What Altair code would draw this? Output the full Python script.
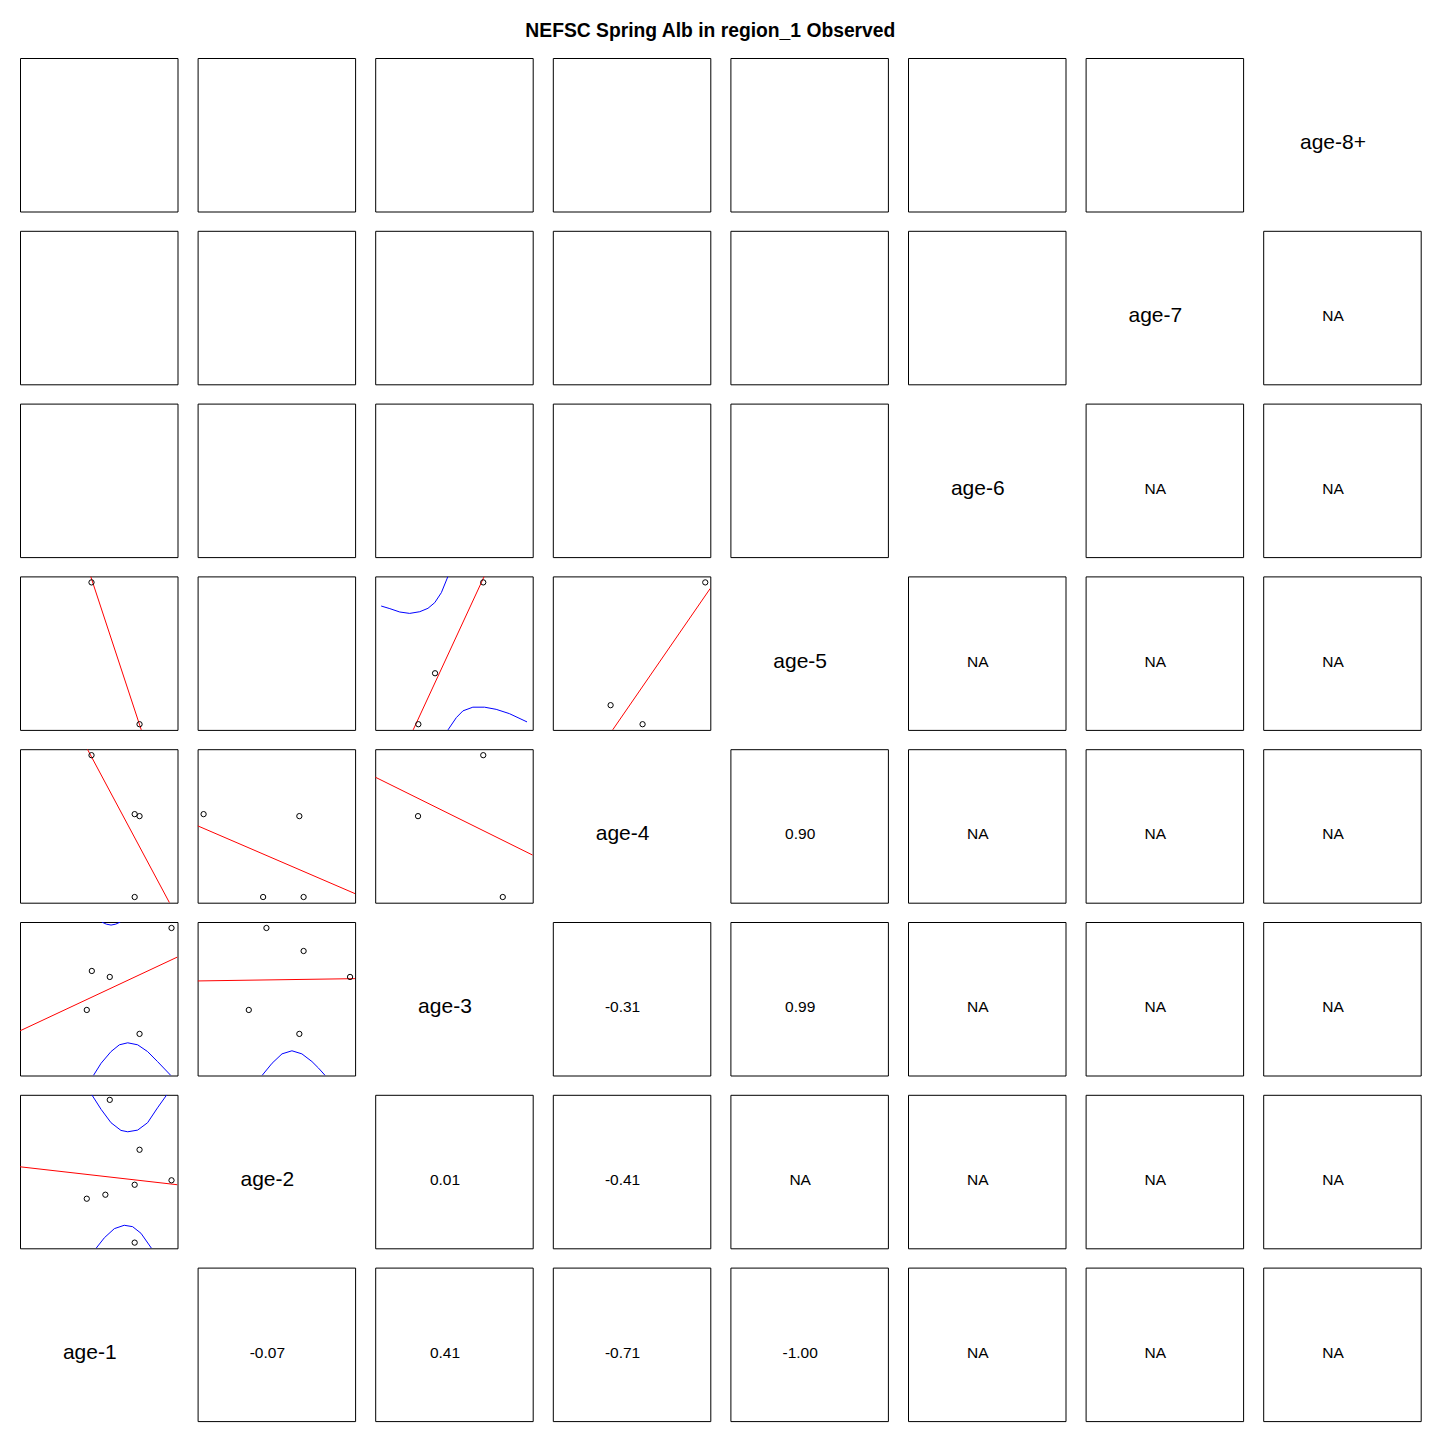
import altair as alt
import pandas as pd

# ---------------- data ----------------
variables = ["age-1", "age-2", "age-3", "age-4", "age-5", "age-6", "age-7", "age-8+"]

# correlations of age-i with age-(i+1) ... age-8+
cor_age1 = ["-0.07", "0.41", "-0.71", "-1.00", "NA", "NA", "NA"]
cor_age2 = ["0.01", "-0.41", "NA", "NA", "NA", "NA"]
cor_age3 = ["-0.31", "0.99", "NA", "NA", "NA"]
cor_age4 = ["0.90", "NA", "NA", "NA"]
cor_age5 = ["NA", "NA", "NA"]
cor_age6 = ["NA", "NA"]
cor_age7 = ["NA"]
cor_table = [cor_age1, cor_age2, cor_age3, cor_age4, cor_age5, cor_age6, cor_age7]

# scatter panels (values in panel-relative units 0..100)
s21_x = [57.0, 75.9, 96.2, 72.8, 54.2, 42.4, 72.8]
s21_y = [96.7, 64.2, 44.3, 41.4, 34.9, 32.3, 3.7]
s21_fit_x = [0, 100]
s21_fit_y = [53.1, 41.4]
s21_up_x = [45.6, 51.5, 57.8, 64.1, 68.4, 74.7, 81.0, 87.3, 93.2]
s21_up_y = [100, 90.5, 81.8, 76.8, 75.9, 77.0, 81.8, 91.5, 100]
s21_lo_x = [48.3, 53.6, 59.9, 66.2, 71.5, 76.8, 83.5]
s21_lo_y = [0, 6.9, 12.8, 15.0, 14.1, 9.8, 0]

s31_x = [96.2, 45.6, 57.0, 42.4, 75.9]
s31_y = [96.1, 68.1, 64.2, 42.7, 27.1]
s31_fit_x = [0, 100]
s31_fit_y = [29.1, 77.2]
s31_up_x = [50.5, 51.9, 54.8, 57.8, 60.8, 63.7, 65.1]
s31_up_y = [103, 100, 98.6, 98.0, 98.6, 100, 103]
s31_lo_x = [46.6, 51.5, 57.8, 63.1, 68.4, 74.7, 81.0, 87.3, 95.8]
s31_lo_y = [0, 8.0, 15.6, 20.0, 21.3, 20.0, 15.6, 9.1, 0]

s32_x = [43.7, 67.3, 96.8, 32.5, 64.6]
s32_y = [96.1, 81.1, 64.2, 42.7, 27.1]
s32_fit_x = [0, 100]
s32_fit_y = [61.6, 63.1]
s32_lo_x = [40.9, 47.3, 53.6, 59.9, 66.2, 72.6, 76.8, 81.0]
s32_lo_y = [0, 8.0, 14.1, 16.1, 14.1, 9.1, 4.8, 0]

s41_x = [45.4, 72.8, 75.9, 72.8]
s41_y = [96.1, 57.7, 56.4, 3.7]
s41_fit_x = [42.8, 94.9]
s41_fit_y = [100, 0]

s42_x = [3.8, 64.6, 41.6, 67.3]
s42_y = [57.7, 56.4, 3.7, 3.7]
s42_fit_x = [0, 100]
s42_fit_y = [50.1, 5.9]

s43_x = [68.6, 27.2, 81.0]
s43_y = [96.1, 56.4, 3.7]
s43_fit_x = [0, 100]
s43_fit_y = [81.8, 31.0]

s51_x = [45.4, 75.9]
s51_y = [96.1, 3.7]
s51_fit_x = [44.9, 77.0]
s51_fit_y = [100, 0]

s53_x = [68.6, 38.0, 27.4]
s53_y = [96.1, 36.9, 3.7]
s53_fit_x = [24.1, 69.2]
s53_fit_y = [0, 100]
s53_up_x = [3.8, 9.3, 15.6, 21.9, 28.3, 33.5, 37.8, 42.0, 46.2]
s53_up_y = [80.7, 79.0, 76.8, 75.9, 77.0, 79.2, 82.9, 89.4, 100]
s53_lo_x = [46.2, 51.5, 55.7, 62.0, 69.4, 76.8, 85.2, 96.4]
s53_lo_y = [0, 8.0, 12.4, 14.8, 14.8, 13.4, 10.6, 5.2]

s54_x = [96.8, 36.7, 57.0]
s54_y = [96.1, 16.1, 3.7]
s54_fit_x = [38.0, 100]
s54_fit_y = [0, 92.2]

TITLE = "NEFSC Spring Alb in region_1 Observed"

# ---------------- chart construction ----------------
W = 157.5
H = 153.5
FONT = "Liberation Sans"
TX = 44.3   # text anchor inside a panel (panel units)
TY = 44.5


def sc():
    return alt.Scale(domain=[0, 100], nice=False, zero=False)


def enc_xy():
    return dict(x=alt.X("x:Q", scale=sc(), axis=None),
                y=alt.Y("y:Q", scale=sc(), axis=None))


def scatter_panel(px, py, fx, fy, bands=()):
    layers = []
    if bands:
        rows = []
        for k, (bx, by) in enumerate(bands):
            rows += [{"x": a, "y": b, "part": k} for a, b in zip(bx, by)]
        layers.append(
            alt.Chart(pd.DataFrame(rows))
            .mark_line(color="#0000FF", strokeWidth=1, clip=True)
            .encode(detail="part:N", **enc_xy())
        )
    layers.append(
        alt.Chart(pd.DataFrame({"x": fx, "y": fy}))
        .mark_line(color="#FF0000", strokeWidth=1, clip=True)
        .encode(**enc_xy())
    )
    layers.append(
        alt.Chart(pd.DataFrame({"x": px, "y": py}))
        .mark_point(shape="circle", filled=False, color="black", size=28,
                    strokeWidth=1, opacity=1)
        .encode(**enc_xy())
    )
    return alt.layer(*layers).properties(width=W, height=H)


def empty_panel():
    return (
        alt.Chart(pd.DataFrame({"x": [50], "y": [50]}))
        .mark_point(opacity=0)
        .encode(**enc_xy())
        .properties(width=W, height=H)
    )


def text_panel(txt, size, border=True):
    ch = (
        alt.Chart(pd.DataFrame({"x": [TX], "y": [TY], "t": [txt]}))
        .mark_text(font=FONT, fontSize=size, color="black", align="center",
                   baseline="middle")
        .encode(text="t:N", **enc_xy())
        .properties(width=W, height=H)
    )
    if not border:
        ch = ch.properties(view=alt.ViewBackground(stroke="transparent"))
    return ch


scatter_specs = {
    (2, 1): (s21_x, s21_y, s21_fit_x, s21_fit_y,
             [(s21_up_x, s21_up_y), (s21_lo_x, s21_lo_y)]),
    (3, 1): (s31_x, s31_y, s31_fit_x, s31_fit_y,
             [(s31_up_x, s31_up_y), (s31_lo_x, s31_lo_y)]),
    (3, 2): (s32_x, s32_y, s32_fit_x, s32_fit_y, [(s32_lo_x, s32_lo_y)]),
    (4, 1): (s41_x, s41_y, s41_fit_x, s41_fit_y, []),
    (4, 2): (s42_x, s42_y, s42_fit_x, s42_fit_y, []),
    (4, 3): (s43_x, s43_y, s43_fit_x, s43_fit_y, []),
    (5, 1): (s51_x, s51_y, s51_fit_x, s51_fit_y, []),
    (5, 3): (s53_x, s53_y, s53_fit_x, s53_fit_y,
             [(s53_up_x, s53_up_y), (s53_lo_x, s53_lo_y)]),
    (5, 4): (s54_x, s54_y, s54_fit_x, s54_fit_y, []),
}

n = len(variables)
row_charts = []
for r in range(n):
    i = n - r          # age index on this row (1-based)
    cells = []
    for c in range(n):
        j = c + 1      # age index of this column
        if i == j:
            cells.append(text_panel(variables[i - 1], 21, border=False))
        elif j > i:
            cells.append(text_panel(cor_table[i - 1][j - i - 1], 15.5))
        else:
            spec = scatter_specs.get((i, j))
            if spec is None:
                cells.append(empty_panel())
            else:
                px, py, fx, fy, bands = spec
                cells.append(scatter_panel(px, py, fx, fy, bands))
    row_charts.append(alt.hconcat(*cells, spacing=18.6))

chart = (
    alt.vconcat(*row_charts, spacing=17.8)
    .properties(
        title=alt.TitleParams(text=TITLE, font=FONT, fontSize=19.3,
                              fontWeight="bold", anchor="middle", color="black",
                              offset=16, dx=-10),
        padding={"left": 19, "top": 22, "right": 5, "bottom": 5},
    )
    .configure_view(stroke="black", strokeWidth=1)
)

chart.save("out.html", embed_options={"renderer": "svg", "actions": False})
